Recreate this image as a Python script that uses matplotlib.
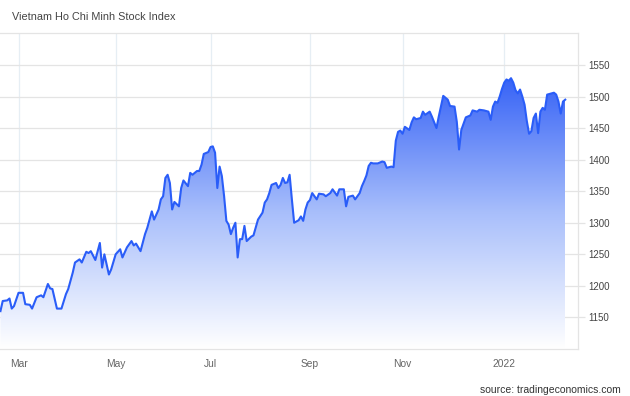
import numpy as np
import matplotlib
matplotlib.use("Agg")
import matplotlib.pyplot as plt
from matplotlib.colors import LinearSegmentedColormap

plt.rcParams['font.family'] = ['Liberation Sans', 'DejaVu Sans']

# trading days of the index (HOSE)
dates = [
    '2021-02-17', '2021-02-18', '2021-02-22', '2021-02-23', '2021-02-24', '2021-02-25',
    '2021-03-01', '2021-03-03', '2021-03-04', '2021-03-08', '2021-03-09', '2021-03-11',
    '2021-03-15', '2021-03-16', '2021-03-18', '2021-03-19', '2021-03-22', '2021-03-24',
    '2021-03-26', '2021-03-30', '2021-03-31', '2021-04-02', '2021-04-05', '2021-04-07',
    '2021-04-08', '2021-04-12', '2021-04-13', '2021-04-14', '2021-04-16', '2021-04-20',
    '2021-04-22', '2021-04-23', '2021-04-27', '2021-04-28', '2021-05-04', '2021-05-06',
    '2021-05-07', '2021-05-11', '2021-05-13', '2021-05-14', '2021-05-17', '2021-05-19',
    '2021-05-21', '2021-05-24', '2021-05-26', '2021-05-27', '2021-05-31', '2021-06-01',
    '2021-06-02', '2021-06-03', '2021-06-04', '2021-06-07', '2021-06-08', '2021-06-09',
    '2021-06-11', '2021-06-14', '2021-06-15', '2021-06-17', '2021-06-18', '2021-06-21',
    '2021-06-23', '2021-06-24', '2021-06-25', '2021-06-28', '2021-06-30', '2021-07-01',
    '2021-07-02', '2021-07-05', '2021-07-06', '2021-07-07', '2021-07-08', '2021-07-09',
    '2021-07-12', '2021-07-13', '2021-07-14', '2021-07-15', '2021-07-16', '2021-07-19',
    '2021-07-20', '2021-07-21', '2021-07-22', '2021-07-23', '2021-07-27', '2021-07-28',
    '2021-07-30', '2021-08-03', '2021-08-04', '2021-08-05', '2021-08-06', '2021-08-09',
    '2021-08-11', '2021-08-12', '2021-08-13', '2021-08-16', '2021-08-17', '2021-08-18',
    '2021-08-19', '2021-08-20', '2021-08-23', '2021-08-25', '2021-08-26', '2021-08-27',
    '2021-08-30', '2021-08-31', '2021-09-01', '2021-09-06', '2021-09-08', '2021-09-09',
    '2021-09-13', '2021-09-14', '2021-09-16', '2021-09-17', '2021-09-21', '2021-09-22',
    '2021-09-24', '2021-09-27', '2021-09-28', '2021-09-30', '2021-10-01', '2021-10-05',
    '2021-10-06', '2021-10-07', '2021-10-08', '2021-10-11', '2021-10-12', '2021-10-13',
    '2021-10-15', '2021-10-19', '2021-10-20', '2021-10-21', '2021-10-25', '2021-10-26',
    '2021-10-27', '2021-10-28', '2021-10-29', '2021-11-01', '2021-11-02', '2021-11-04',
    '2021-11-05', '2021-11-08', '2021-11-09', '2021-11-11', '2021-11-12', '2021-11-15',
    '2021-11-17', '2021-11-18', '2021-11-22', '2021-11-23', '2021-11-25', '2021-11-29',
    '2021-11-30', '2021-12-02', '2021-12-03', '2021-12-06', '2021-12-07', '2021-12-09',
    '2021-12-13', '2021-12-14', '2021-12-16', '2021-12-17', '2021-12-21', '2021-12-23',
    '2021-12-24', '2021-12-27', '2021-12-28', '2021-12-29', '2021-12-30', '2021-12-31',
    '2022-01-04', '2022-01-05', '2022-01-06', '2022-01-07', '2022-01-10', '2022-01-11',
    '2022-01-12', '2022-01-13', '2022-01-14', '2022-01-17', '2022-01-18', '2022-01-19',
    '2022-01-20', '2022-01-21', '2022-01-24', '2022-01-25', '2022-01-26', '2022-01-27',
    '2022-01-28', '2022-02-07', '2022-02-09', '2022-02-10', '2022-02-11', '2022-02-14',
    '2022-02-15', '2022-02-16', '2022-02-17',
]
values = [
    1160, 1176, 1177, 1180, 1164, 1168,
    1189, 1189, 1171, 1170, 1164, 1182,
    1185, 1182, 1203, 1196, 1195, 1164,
    1164, 1187, 1195, 1221, 1237, 1242,
    1237, 1254, 1252, 1255, 1241, 1268,
    1229, 1250, 1218, 1226, 1250, 1258,
    1245, 1261, 1271, 1264, 1267, 1255,
    1282, 1292, 1318, 1305, 1321, 1337,
    1342, 1371, 1376, 1363, 1321, 1333,
    1326, 1355, 1367, 1358, 1379, 1376,
    1382, 1382, 1392, 1409, 1412, 1420,
    1421, 1411, 1355, 1389, 1374, 1342,
    1303, 1297, 1282, 1292, 1300, 1245,
    1274, 1274, 1295, 1271, 1278, 1280,
    1305, 1316, 1332, 1337, 1347, 1360,
    1363, 1355, 1360, 1371, 1363, 1364,
    1376, 1337, 1300, 1304, 1310, 1303,
    1321, 1332, 1336, 1347, 1337, 1346,
    1345, 1342, 1347, 1353, 1343, 1353,
    1353, 1326, 1341, 1343, 1337, 1347,
    1358, 1366, 1375, 1390, 1395, 1394,
    1394, 1397, 1396, 1387, 1389, 1388,
    1430, 1444, 1446, 1441, 1452, 1447,
    1459, 1467, 1464, 1466, 1476, 1471,
    1476, 1468, 1450, 1468, 1501, 1495,
    1485, 1484, 1460, 1416, 1447, 1467,
    1470, 1478, 1476, 1479, 1478, 1476,
    1463, 1484, 1492, 1490, 1500, 1512,
    1522, 1527, 1525, 1529, 1522, 1510,
    1505, 1511, 1500, 1487, 1461, 1441,
    1445, 1466, 1473, 1442, 1476, 1482,
    1479, 1503, 1505, 1506, 1503, 1492,
    1473, 1492, 1495,
]
# exchange holidays (Tet, Hung Kings, 30/4-1/5, National Day, New Year)
holidays = [
    '2021-02-10', '2021-02-11', '2021-02-12', '2021-02-15', '2021-02-16',
    '2021-04-21', '2021-04-30', '2021-05-03', '2021-09-02', '2021-09-03',
    '2022-01-03', '2022-01-31', '2022-02-01', '2022-02-02', '2022-02-03', '2022-02-04',
]
tick_dates = ['2021-03-01', '2021-05-01', '2021-07-01', '2021-09-01', '2021-11-01', '2022-01-01']
tick_labels = ['Mar', 'May', 'Jul', 'Sep', 'Nov', '2022']
y_ticks = [1150, 1200, 1250, 1300, 1350, 1400, 1450, 1500, 1550]

# ordinal x axis: position = number of trading days since 1 Mar 2021
origin = '2021-03-01'
x = np.busday_count(origin, np.array(dates, dtype='datetime64[D]'), holidays=holidays)
xt = np.busday_count(origin, np.array(tick_dates, dtype='datetime64[D]'), holidays=holidays)
y = np.array(values, dtype=float)

fig = plt.figure(figsize=(6.3, 3.96), dpi=100)
ax = fig.add_axes([0.0, 0.1187, 0.918, 0.797])

xmin, xmax = -8.2, 247.8
ymin, ymax = 1100, 1600
ax.set_xlim(xmin, xmax)
ax.set_ylim(ymin, ymax)

# gradient fill under the line
cmap = LinearSegmentedColormap.from_list('fade', ['#ffffff', '#a9bffb', '#3763f6'])
grad = np.linspace(0, 1, 256).reshape(-1, 1)
poly = ax.fill_between(x, y, ymin, color='none', linewidth=0)
im = ax.imshow(grad, extent=[x[0], x[-1], ymin, y.max()], origin='lower',
               aspect='auto', cmap=cmap, zorder=1)
im.set_clip_path(poly.get_paths()[0], transform=ax.transData)
ax.plot(x, y, color='#2a5df8', linewidth=1.5, zorder=3)

ax.set_xticks(xt)
ax.set_xticklabels(tick_labels)
ax.set_yticks(y_ticks)
ax.yaxis.tick_right()
ax.grid(axis='y', color='#e4e4e4', linewidth=0.9, zorder=0)
ax.grid(axis='x', color='#e6eef4', linewidth=0.9, zorder=0)
ax.set_axisbelow(True)
ax.tick_params(axis='x', length=0, pad=7, labelsize=7.4, labelcolor='#666666')
ax.tick_params(axis='y', length=5, width=0.9, color='#e4e4e4', pad=2,
               labelsize=7, labelcolor='#444444')
for side in ['top', 'bottom', 'right']:
    ax.spines[side].set_color('#e4e4e4')
    ax.spines[side].set_linewidth(0.9)
ax.spines['left'].set_visible(False)

fig.text(12 / 630, 1 - 17 / 396, 'Vietnam Ho Chi Minh Stock Index',
         fontsize=7.8, color='#444444', ha='left', va='center')
fig.text(621 / 630, 1 - 390 / 396, 'source: tradingeconomics.com',
         fontsize=7.5, color='#333333', ha='right', va='center')

fig.savefig('out.png', dpi=100)
plt.close(fig)
